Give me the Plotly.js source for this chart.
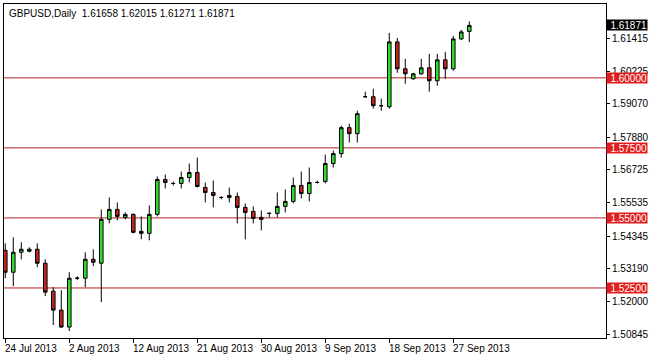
<!DOCTYPE html>
<html>
<head>
<meta charset="utf-8">
<script src="https://cdn.plot.ly/plotly-3.0.1.min.js"></script>
<style>
  html, body { margin: 0; padding: 0; background: #ffffff; }
  #chart { width: 650px; height: 358px; }
</style>
</head>
<body>
<div id="chart"></div>
<script>
const dates = [
  '2013-07-24','2013-07-25','2013-07-26','2013-07-28','2013-07-29','2013-07-30','2013-07-31','2013-08-01',
  '2013-08-02','2013-08-04','2013-08-05','2013-08-06','2013-08-07','2013-08-08','2013-08-09','2013-08-11',
  '2013-08-12','2013-08-13','2013-08-14','2013-08-15','2013-08-16','2013-08-18','2013-08-19','2013-08-20',
  '2013-08-21','2013-08-22','2013-08-23','2013-08-25','2013-08-26','2013-08-27','2013-08-28','2013-08-29',
  '2013-08-30','2013-09-01','2013-09-02','2013-09-03','2013-09-04','2013-09-05','2013-09-06','2013-09-08',
  '2013-09-09','2013-09-10','2013-09-11','2013-09-12','2013-09-13','2013-09-15','2013-09-16','2013-09-17',
  '2013-09-18','2013-09-19','2013-09-20','2013-09-22','2013-09-23','2013-09-24','2013-09-25','2013-09-26',
  '2013-09-27','2013-09-29','2013-09-30'
];
const openP = [
  1.53845,1.53062,1.53774,1.53810,1.53881,1.53383,1.52386,1.51710,
  1.51105,1.52849,1.52849,1.53525,1.53383,1.54949,1.55304,1.55020,
  1.55126,1.54521,1.54450,1.55126,1.56372,1.56230,1.56230,1.56443,
  1.56621,1.56087,1.55909,1.55731,1.55803,1.55767,1.55376,1.55233,
  1.55020,1.55162,1.55162,1.55411,1.55589,1.56158,1.55874,1.56265,
  1.56301,1.56941,1.57297,1.58222,1.58009,1.59326,1.59326,1.59005,
  1.58970,1.61283,1.60322,1.59966,1.60144,1.60358,1.59895,1.60642,
  1.60322,1.61390,1.61658
];
const highP = [
  1.54094,1.54308,1.54130,1.53952,1.54094,1.53525,1.52529,1.52422,
  1.53062,1.52920,1.53774,1.53881,1.55304,1.55731,1.55553,1.55198,
  1.55162,1.55055,1.55447,1.56479,1.56550,1.56301,1.56657,1.56941,
  1.57155,1.56265,1.56336,1.55767,1.56087,1.55909,1.55518,1.55411,
  1.55269,1.55198,1.55909,1.56016,1.56443,1.56657,1.56799,1.56336,
  1.57262,1.57404,1.58294,1.58365,1.58827,1.59504,1.59610,1.59255,
  1.61603,1.61425,1.60678,1.60180,1.60678,1.60856,1.60856,1.60927,
  1.61497,1.61710,1.62015
];
const lowP = [
  1.52849,1.52564,1.53525,1.53774,1.53240,1.52208,1.51176,1.51070,
  1.50963,1.52778,1.52529,1.53276,1.51995,1.54806,1.54913,1.54949,
  1.54450,1.54237,1.54201,1.55055,1.56052,1.56158,1.56052,1.56265,
  1.56087,1.55553,1.55376,1.55660,1.55553,1.54806,1.54237,1.54806,
  1.54557,1.55020,1.55020,1.55198,1.55518,1.55696,1.55589,1.56230,
  1.56230,1.56799,1.57155,1.57689,1.57689,1.59290,1.58899,1.58827,
  1.58899,1.60180,1.59788,1.59931,1.60109,1.59504,1.59717,1.59966,
  1.60251,1.61354,1.61271
];
const closeP = [
  1.53062,1.53774,1.53881,1.53881,1.53383,1.52351,1.51710,1.51105,
  1.52849,1.52849,1.53525,1.53418,1.54949,1.55304,1.55055,1.55126,
  1.54486,1.54450,1.55126,1.56372,1.56265,1.56230,1.56443,1.56621,
  1.56123,1.55909,1.55803,1.55731,1.55731,1.55376,1.55198,1.54984,
  1.54949,1.55162,1.55411,1.55589,1.56158,1.55874,1.56265,1.56265,
  1.56941,1.57297,1.58222,1.58009,1.58721,1.59326,1.59005,1.59005,
  1.61283,1.60322,1.60144,1.60144,1.60358,1.59895,1.60642,1.60322,
  1.61390,1.61639,1.61871
];
const xTickDates = ['2013-07-24','2013-08-02','2013-08-12','2013-08-21','2013-08-30','2013-09-09','2013-09-18','2013-09-27'];
const xTickLabels = ['24 Jul 2013','2 Aug 2013','12 Aug 2013','21 Aug 2013','30 Aug 2013','9 Sep 2013','18 Sep 2013','27 Sep 2013'];
const yTickVals = [1.61415,1.60225,1.59070,1.57880,1.56725,1.55535,1.54345,1.53190,1.52000,1.50845];
const levelLines = [1.60000,1.57500,1.55000,1.52500];
const lastPrice = 1.61871;
const titleText = 'GBPUSD,Daily\u00a0\u00a01.61658 1.62015 1.61271 1.61871';

const FONT = 'Liberation Sans, Arial, sans-serif';
const GREEN = '#2fdc2f';
const RED = '#bf2323';

const trace = {
  type: 'candlestick',
  x: dates, open: openP, high: highP, low: lowP, close: closeP,
  increasing: { line: { color: '#000000', width: 1 }, fillcolor: GREEN },
  decreasing: { line: { color: '#000000', width: 1 }, fillcolor: RED },
  whiskerwidth: 0,
  hoverinfo: 'skip',
  showlegend: false
};

const shapes = levelLines.map(v => ({
  type: 'line', xref: 'paper', yref: 'y', x0: 0, x1: 1, y0: v, y1: v,
  line: { color: '#b22222', width: 1 }, layer: 'below'
}));

const annotations = [];
annotations.push({
  xref: 'paper', yref: 'paper', x: 0, y: 1, xanchor: 'left', yanchor: 'top',
  xshift: 3, yshift: -2, showarrow: false, text: titleText,
  font: { family: FONT, size: 10, color: '#000000' }
});
levelLines.forEach(v => annotations.push({
  xref: 'paper', yref: 'y', x: 1, y: v, xanchor: 'left', yanchor: 'middle',
  xshift: 0, showarrow: false, text: v.toFixed(5), bgcolor: '#e01e1e',
  width: 40, height: 10, borderpad: 0, align: 'right',
  font: { family: FONT, size: 10, color: '#ffffff' }
}));
annotations.push({
  xref: 'paper', yref: 'y', x: 1, y: lastPrice, xanchor: 'left', yanchor: 'middle',
  xshift: 0, showarrow: false, text: lastPrice.toFixed(5), bgcolor: '#000000',
  width: 40, height: 10, borderpad: 0, align: 'right',
  font: { family: FONT, size: 10, color: '#ffffff' }
});
xTickDates.forEach((d, i) => annotations.push({
  xref: 'x', yref: 'paper', x: d, y: 0, xanchor: 'left', yanchor: 'top',
  xshift: -2, yshift: -3, showarrow: false, text: xTickLabels[i],
  font: { family: FONT, size: 10, color: '#000000' }
}));

const layout = {
  width: 650, height: 358,
  margin: { l: 4, r: 44, t: 4, b: 20, pad: 0 },
  paper_bgcolor: '#ffffff', plot_bgcolor: '#ffffff',
  showlegend: false,
  boxgap: 0.36,
  xaxis: {
    type: 'category',
    range: [-0.16, 75.09],
    rangeslider: { visible: false },
    showgrid: false, zeroline: false,
    showline: true, mirror: true, linecolor: '#000000', linewidth: 1,
    tickmode: 'array', tickvals: xTickDates, ticktext: xTickLabels,
    showticklabels: false,
    ticks: 'outside', ticklen: 4, tickcolor: '#000000', tickwidth: 1
  },
  yaxis: {
    side: 'right',
    range: [1.50714, 1.62636],
    showgrid: false, zeroline: false,
    showline: true, mirror: true, linecolor: '#000000', linewidth: 1,
    tickmode: 'array', tickvals: yTickVals, ticktext: yTickVals.map(v => v.toFixed(5)),
    ticks: 'outside', ticklen: 3, tickcolor: '#000000', tickwidth: 1,
    tickfont: { family: FONT, size: 10, color: '#000000' }
  },
  shapes: shapes,
  annotations: annotations
};

Plotly.newPlot('chart', [trace], layout, { displayModeBar: false, staticPlot: true });
</script>
</body>
</html>
